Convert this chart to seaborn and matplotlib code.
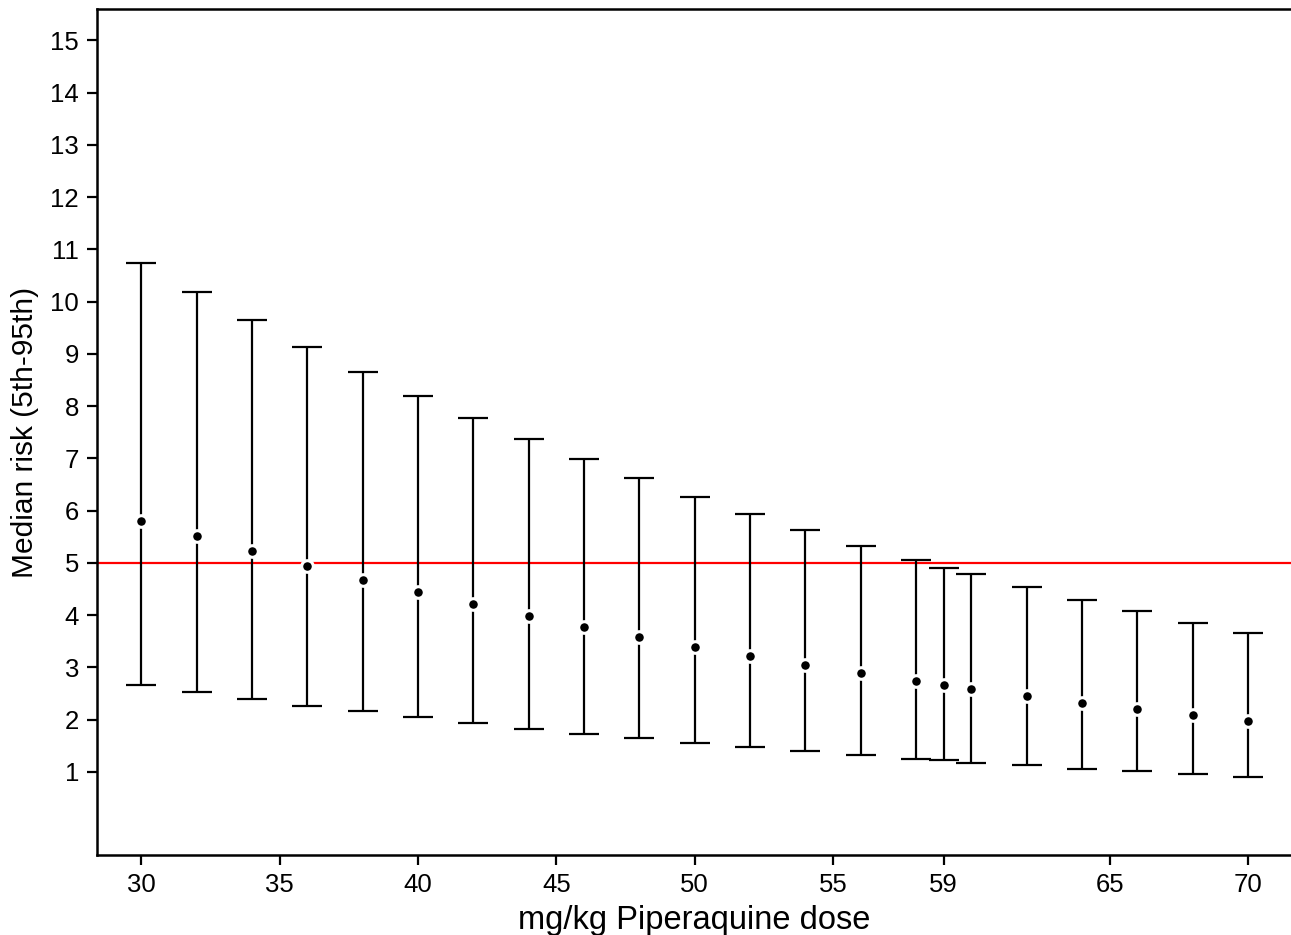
import numpy as np
import pandas as pd
import matplotlib
matplotlib.use("Agg")
import matplotlib.pyplot as plt
import seaborn as sns

dose = [30, 32, 34, 36, 38, 40, 42, 44, 46, 48, 50, 52, 54, 56, 58, 59, 60, 62, 64, 66, 68, 70]
median = [5.81, 5.51, 5.22, 4.94, 4.68, 4.44, 4.21, 3.99, 3.78, 3.58, 3.39, 3.22, 3.05, 2.89, 2.74, 2.66, 2.59, 2.45, 2.32, 2.20, 2.09, 1.98]
p5 = [2.66, 2.52, 2.39, 2.27, 2.16, 2.05, 1.93, 1.82, 1.73, 1.64, 1.55, 1.47, 1.40, 1.33, 1.24, 1.22, 1.18, 1.13, 1.06, 1.01, 0.96, 0.90]
p95 = [10.73, 10.19, 9.65, 9.14, 8.66, 8.20, 7.78, 7.37, 6.99, 6.62, 6.27, 5.94, 5.63, 5.33, 5.05, 4.91, 4.79, 4.54, 4.29, 4.07, 3.85, 3.66]
xticks = [30, 35, 40, 45, 50, 55, 59, 65, 70]
yticks = list(range(1, 16))

df = pd.DataFrame({"dose": dose, "median": median, "p5": p5, "p95": p95})

sns.set_style("ticks")
plt.rcParams['font.family'] = ['Liberation Sans', 'DejaVu Sans']
plt.rcParams['text.color'] = 'black'
plt.rcParams['axes.labelcolor'] = 'black'
plt.rcParams['xtick.color'] = 'black'
plt.rcParams['ytick.color'] = 'black'

fig = plt.figure(figsize=(12.91, 9.35), dpi=100)
ax = fig.add_axes([97 / 1291, 1 - 855 / 935, 1 - 97 / 1291, (855 - 9) / 935])

ax.errorbar(df["dose"], df["median"],
            yerr=[df["median"] - df["p5"], df["p95"] - df["median"]],
            fmt="none", ecolor="black", elinewidth=1.6, capsize=10.5, capthick=1.6, zorder=2)
sns.scatterplot(data=df, x="dose", y="median", ax=ax, color="black", s=70,
                edgecolor="white", linewidth=2.2, zorder=3)
ax.axhline(5, color="red", linewidth=1.6, zorder=1)

ax.set_xlim(28.4, 71.55)
ax.set_ylim(-0.59, 15.6)
ax.set_xticks(xticks)
ax.set_yticks(yticks)
ax.tick_params(labelsize=18.5, width=1.6, length=7, pad=6)
ax.set_xlabel("mg/kg Piperaquine dose", fontsize=23.5, labelpad=6)
ax.set_ylabel("Median risk (5th-95th)", fontsize=21.5, labelpad=8)
for side in ["left", "bottom", "top"]:
    ax.spines[side].set_linewidth(1.8)
    ax.spines[side].set_color("black")
ax.spines["right"].set_visible(False)

fig.savefig("out.png", dpi=100)
